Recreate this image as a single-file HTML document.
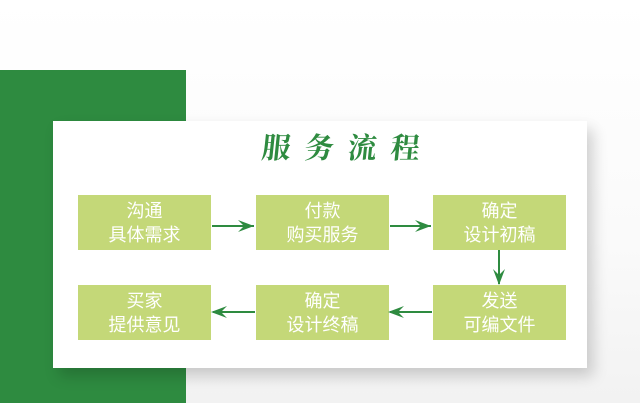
<!DOCTYPE html>
<html><head><meta charset="utf-8"><style>
body{margin:0;width:640px;height:403px;overflow:hidden;background:linear-gradient(180deg,#fff 0%,#fafafa 60%,#f2f2f2 100%);position:relative;font-family:"Liberation Sans","Noto Sans CJK SC",sans-serif}
.g{position:absolute;left:0;top:70px;width:186px;height:333px;background:#2e8b40}
.card{position:absolute;left:53px;top:121px;width:534px;height:247px;background:#fff;box-shadow:6px 8px 14px rgba(0,0,0,.18)}
.t{position:absolute;left:53px;top:126px;width:590px;text-align:center;font-family:"Noto Serif CJK SC",serif;font-weight:bold;font-size:29px;letter-spacing:14px;color:#2e8b40;transform:skewX(-6deg)}
.b{position:absolute;width:133px;height:55px;background:#c4d878;color:#fff;font-size:18px;line-height:24px;text-align:center;display:flex;flex-direction:column;justify-content:center}
svg{position:absolute;left:0;top:0}
</style></head><body>
<div class="g"></div><div class="card"></div>
<div class="t">服务流程</div>
<div class="b" style="left:78px;top:195px">沟通<br>具体需求</div>
<div class="b" style="left:256px;top:195px">付款<br>购买服务</div>
<div class="b" style="left:433px;top:195px">确定<br>设计初稿</div>
<div class="b" style="left:78px;top:285px">买家<br>提供意见</div>
<div class="b" style="left:256px;top:285px">确定<br>设计终稿</div>
<div class="b" style="left:433px;top:285px">发送<br>可编文件</div>
<svg width="640" height="403"><g stroke="#2e8b40" stroke-width="2" fill="#2e8b40">
<line x1="212" y1="226" x2="254" y2="226"/><path d="M254 226 L238 220 L244 226 L238 232Z" stroke="none"/>
<line x1="390" y1="226" x2="431" y2="226"/><path d="M431 226 L415 220 L421 226 L415 232Z" stroke="none"/>
<line x1="499" y1="250" x2="499" y2="284"/><path d="M499 285 L493 269 L499 275 L505 269Z" stroke="none"/>
<line x1="432" y1="312" x2="390" y2="312"/><path d="M388 312 L404 306 L398 312 L404 318Z" stroke="none"/>
<line x1="255" y1="312" x2="213" y2="312"/><path d="M211 312 L227 306 L221 312 L227 318Z" stroke="none"/>
</g></svg>
</body></html>
